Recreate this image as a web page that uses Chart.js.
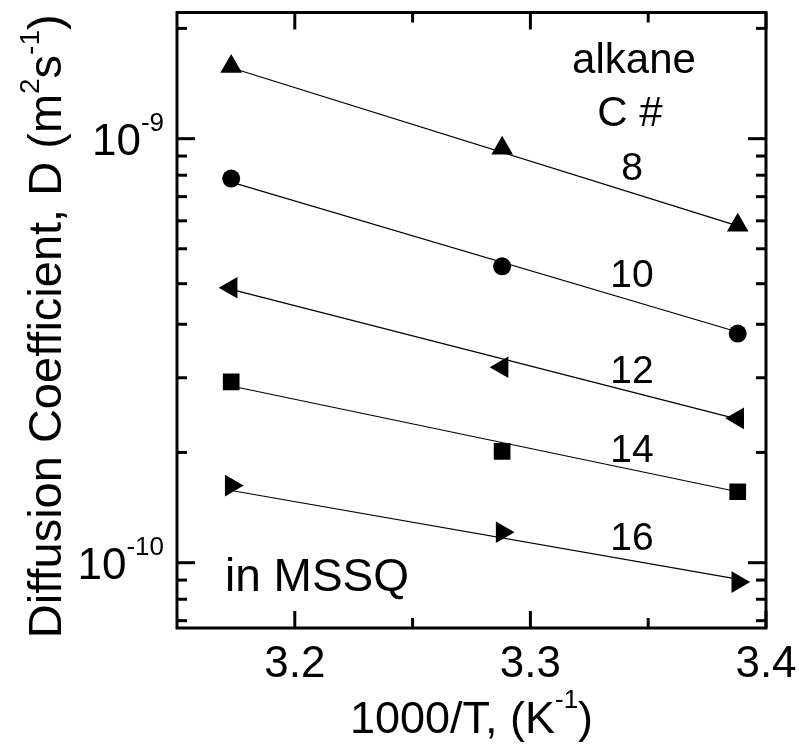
<!DOCTYPE html>
<html lang="en">
<head>
    <meta charset="UTF-8">
    <title>Alkane Diffusion in MSSQ</title>
    <style>
        body { margin: 0; background: #fff; }
        #wrap { width: 799px; height: 746px; }
    </style>
</head>
<body>
<div id="wrap"><canvas id="diffChart" width="799" height="746"></canvas></div>

<script src="https://cdn.jsdelivr.net/npm/chart.js"></script>
<script>
    // measured points: 1000/T (K^-1) and diffusion coefficient D (m^2/s)
    const invT = [3.173, 3.288, 3.388];
    const chainLabels = ['8', '10', '12', '14', '16'];
    const dC8  = [14.8e-10, 9.49e-10, 6.25e-10];
    const dC10 = [8.05e-10, 5.00e-10, 3.47e-10];
    const dC12 = [4.45e-10, 2.89e-10, 2.19e-10];
    const dC14 = [2.67e-10, 1.83e-10, 1.47e-10];
    const dC16 = [1.52e-10, 1.18e-10, 0.90e-10];

    // Arrhenius fit lines, values at first and last 1000/T
    const fitC8  = [14.7e-10, 6.23e-10];
    const fitC10 = [7.90e-10, 3.50e-10];
    const fitC12 = [4.41e-10, 2.18e-10];
    const fitC14 = [2.61e-10, 1.47e-10];
    const fitC16 = [1.48e-10, 0.915e-10];

    // axis ticks
    const xMajorTicks = [3.2, 3.3, 3.4];
    const xMinorTicks = [3.25, 3.35];
    const yMajorTicks = [1e-9, 1e-10];
    const yMajorExp = ['-9', '-10'];
    const yMinorTicks = [1.82e-9, 9.1e-10, 8.2e-10, 7.3e-10, 6.4e-10, 5.5e-10, 4.55e-10,
                         3.65e-10, 2.73e-10, 1.82e-10, 9.1e-11, 8.2e-11, 7.3e-11];

    const FONT = '"Liberation Sans", Arial, sans-serif';

    const markerStyles = [
        { style: 'triangle', radius: 12.5, rotation: 0 },
        { style: 'circle',   radius: 9,    rotation: 0 },
        { style: 'triangle', radius: 12.5, rotation: -90 },
        { style: 'rect',     radius: 11.8, rotation: 0 },
        { style: 'triangle', radius: 12.5, rotation: 90 }
    ];
    const series = [dC8, dC10, dC12, dC14, dC16];
    const fits = [fitC8, fitC10, fitC12, fitC14, fitC16];

    const datasets = [];
    fits.forEach((f, i) => {
        datasets.push({
            label: 'fit C' + chainLabels[i],
            data: [{ x: invT[0], y: f[0] }, { x: invT[2], y: f[1] }],
            showLine: true,
            borderColor: '#000',
            borderWidth: 1.2,
            pointRadius: 0
        });
    });
    series.forEach((s, i) => {
        const m = markerStyles[i];
        datasets.push({
            label: 'C' + chainLabels[i],
            data: s.map((v, j) => ({ x: invT[j], y: v })),
            showLine: false,
            pointStyle: m.style,
            pointRadius: m.radius,
            pointRotation: m.rotation,
            backgroundColor: '#000',
            borderColor: '#000',
            borderWidth: 0
        });
    });

    // draw text made of pieces, some of them raised (superscripts)
    function drawRich(ctx, parts, x, y, align) {
        let total = 0;
        parts.forEach(p => {
            ctx.font = p.size + 'px ' + FONT;
            p.w = ctx.measureText(p.t).width;
            total += p.w;
        });
        let cx = x;
        if (align === 'center') cx = x - total / 2;
        if (align === 'right') cx = x - total;
        ctx.textAlign = 'left';
        ctx.textBaseline = 'alphabetic';
        parts.forEach(p => {
            ctx.font = p.size + 'px ' + FONT;
            ctx.fillText(p.t, cx, y - (p.rise || 0));
            cx += p.w;
        });
    }

    const framePlugin = {
        id: 'frame',
        afterDraw(chart) {
            const ctx = chart.ctx;
            const a = chart.chartArea;
            const xs = chart.scales.x, ys = chart.scales.y;
            ctx.save();
            ctx.strokeStyle = '#000';
            ctx.fillStyle = '#000';
            ctx.lineWidth = 3;
            ctx.strokeRect(a.left, a.top, a.right - a.left, a.bottom - a.top);

            const tick = (x1, y1, x2, y2) => {
                ctx.beginPath(); ctx.moveTo(x1, y1); ctx.lineTo(x2, y2); ctx.stroke();
            };
            // x ticks, bottom and top, pointing inward
            xMajorTicks.forEach(v => {
                const px = xs.getPixelForValue(v);
                tick(px, a.bottom, px, a.bottom - 17);
                tick(px, a.top, px, a.top + 17);
            });
            xMinorTicks.forEach(v => {
                const px = xs.getPixelForValue(v);
                tick(px, a.bottom, px, a.bottom - 10);
                tick(px, a.top, px, a.top + 10);
            });
            // y ticks, left and right
            yMajorTicks.forEach(v => {
                const py = ys.getPixelForValue(v);
                tick(a.left, py, a.left + 18, py);
                tick(a.right, py, a.right - 18, py);
            });
            yMinorTicks.forEach(v => {
                const py = ys.getPixelForValue(v);
                tick(a.left, py, a.left + 10, py);
                tick(a.right, py, a.right - 10, py);
            });

            // tick labels
            ctx.font = '44px ' + FONT;
            ctx.textAlign = 'center';
            ctx.textBaseline = 'alphabetic';
            xMajorTicks.forEach(v => {
                ctx.fillText(v.toFixed(1), xs.getPixelForValue(v), 677);
            });
            yMajorTicks.forEach((v, i) => {
                const py = ys.getPixelForValue(v);
                drawRich(ctx, [
                    { t: '10', size: 44 },
                    { t: yMajorExp[i], size: 26, rise: 24 }
                ], 164, py + 16, 'right');
            });

            // axis titles
            drawRich(ctx, [
                { t: '1000/T, (K', size: 45 },
                { t: '-1', size: 26, rise: 25 },
                { t: ')', size: 45 }
            ], (a.left + a.right) / 2, 733, 'center');

            ctx.save();
            ctx.translate(61, (a.top + a.bottom) / 2 + 6);
            ctx.rotate(-Math.PI / 2);
            drawRich(ctx, [
                { t: 'Diffusion Coefficient, D (m', size: 47 },
                { t: '2', size: 28, rise: 22 },
                { t: 's', size: 47 },
                { t: '-1', size: 28, rise: 22 },
                { t: ')', size: 47 }
            ], 0, 0, 'center');
            ctx.restore();

            // annotations
            ctx.textAlign = 'center';
            ctx.font = '42px ' + FONT;
            ctx.fillText('alkane', 634, 73);
            ctx.fillText('C #', 630, 126);
            ctx.font = '39px ' + FONT;
            const labelY = [180, 287, 383, 462, 550];
            chainLabels.forEach((t, i) => ctx.fillText(t, 632, labelY[i]));
            ctx.textAlign = 'left';
            ctx.font = '46px ' + FONT;
            ctx.fillText('in MSSQ', 225, 591);
            ctx.restore();
        }
    };

    new Chart(document.getElementById('diffChart').getContext('2d'), {
        type: 'scatter',
        data: { datasets: datasets },
        options: {
            responsive: false,
            animation: false,
            layout: { padding: { left: 177, top: 10, right: 33, bottom: 118 } },
            plugins: {
                legend: { display: false },
                tooltip: { enabled: false }
            },
            scales: {
                x: { type: 'linear', min: 3.15, max: 3.4, display: false },
                y: { type: 'logarithmic', min: 7.015e-11, max: 1.984e-9, display: false }
            }
        },
        plugins: [framePlugin]
    });
</script>
</body>
</html>
